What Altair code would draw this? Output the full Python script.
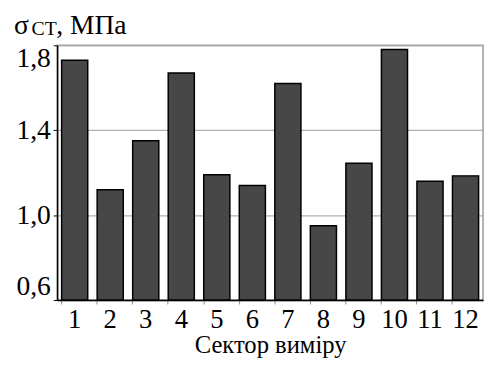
import altair as alt
import pandas as pd

sectors = ["1", "2", "3", "4", "5", "6", "7", "8", "9", "10", "11", "12"]
values = [1.73, 1.12, 1.35, 1.67, 1.19, 1.14, 1.62, 0.95, 1.245, 1.78, 1.16, 1.185]
y_ticks = [0.6, 1.0, 1.4, 1.8]

df = pd.DataFrame({"sector": sectors, "value": values})
FONT = "Liberation Serif"

bars = alt.Chart(df).mark_bar(
    color="#474747", stroke="#000000", strokeWidth=1.5
).encode(
    x=alt.X("sector:N", sort=sectors,
            scale=alt.Scale(paddingInner=0.265, paddingOuter=0.125),
            axis=alt.Axis(title="Сектор виміру", labelAngle=0, labelFontSize=27,
                          labelFont=FONT, labelColor="#000", titleFont=FONT,
                          titleFontSize=25, titleFontWeight="normal", titleColor="#000",
                          titleBaseline="alphabetic", titleY=53,
                          labelPadding=3, bandPosition=0,
                          tickSize=4, tickColor="#888", domainColor="#000",
                          domainWidth=1.5, grid=False)),
    y=alt.Y("value:Q", scale=alt.Scale(domain=[0.6, 1.8], nice=False, zero=False),
            axis=alt.Axis(title=None, values=y_ticks, labelFontSize=28, labelFont=FONT,
                          labelColor="#000",
                          labelExpr="replace(format(datum.value, '.1f'), '.', ',')",
                          labelFlush=True, tickSize=4, tickColor="#000",
                          domainColor="#000", domainWidth=1.5,
                          grid=True, gridColor="#b0b0b0", gridWidth=1.2, labelPadding=3)),
    y2=alt.datum(0.6),
)

one = pd.DataFrame({"a": [0]})
t1 = alt.Chart(one).mark_text(text="σ", font=FONT, fontSize=28, align="left",
                              baseline="alphabetic", color="#000").encode(
    x=alt.value(-44), y=alt.value(-12))
t2 = alt.Chart(one).mark_text(text="СТ", font=FONT, fontSize=20, align="left",
                              baseline="alphabetic", color="#000").encode(
    x=alt.value(-26), y=alt.value(-10))
t3 = alt.Chart(one).mark_text(text=", МПа", font=FONT, fontSize=28, align="left",
                              baseline="alphabetic", color="#000").encode(
    x=alt.value(-1), y=alt.value(-12))

chart = alt.layer(bars, t1, t2, t3).properties(
    width=433, height=259,
    autosize=alt.AutoSizeParams(type="none"),
    padding={"left": 50, "top": 35, "right": 2, "bottom": 58},
).configure_view(stroke="#999", strokeWidth=1.5)

chart.save("out.html", embed_options={"renderer": "svg", "actions": False})
